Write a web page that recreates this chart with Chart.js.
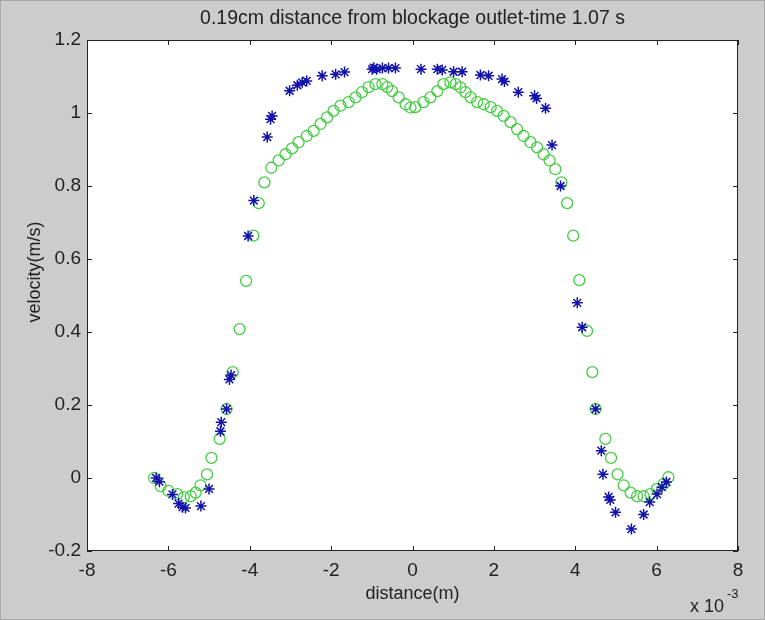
<!DOCTYPE html>
<html>
<head>
<meta charset="utf-8">
<title>velocity profile</title>
<script src="https://cdn.jsdelivr.net/npm/chart.js@4.4.1/dist/chart.umd.min.js"></script>
<style>
  html, body { margin: 0; padding: 0; background: #cccccc; }
  #wrap { width: 765px; height: 620px; position: relative; }
  canvas { display: block; }
</style>
</head>
<body>
<div id="wrap"><canvas id="profile" width="765" height="620"></canvas></div>
<script>
// distance in units of 1e-3 m, velocity in m/s

// measured profile (blue asterisks)
const measX = [-6.30, -6.22, -5.90, -5.75, -5.65, -5.58, -5.20, -5.00, -4.72, -4.70, -4.57, -4.50, -4.46,
  -4.04, -3.90, -3.57, -3.49, -3.45, -3.02, -2.83, -2.71, -2.60, -2.22, -1.89, -1.67,
  -0.99, -0.95, -0.88, -0.74, -0.59, -0.42, 0.21, 0.61, 0.73, 1.01, 1.22, 1.67, 1.87, 2.20, 2.26,
  2.60, 3.00, 3.05, 3.27, 3.43, 3.64, 4.05, 4.17, 4.50, 4.64, 4.68, 4.82, 4.86, 4.99,
  5.38, 5.68, 5.83, 6.01, 6.13, 6.24];
const measY = [0.000, -0.010, -0.045, -0.070, -0.080, -0.082, -0.077, -0.030, 0.128, 0.153, 0.189, 0.270, 0.282,
  0.663, 0.760, 0.934, 0.983, 0.992, 1.061, 1.076, 1.084, 1.088, 1.102, 1.106, 1.112,
  1.120, 1.124, 1.120, 1.123, 1.123, 1.123, 1.120, 1.120, 1.118, 1.113, 1.113, 1.104, 1.102, 1.093, 1.086,
  1.057, 1.047, 1.040, 1.013, 0.912, 0.800, 0.480, 0.413, 0.189, 0.075, 0.010, -0.052, -0.060, -0.094,
  -0.140, -0.100, -0.066, -0.044, -0.025, -0.011];

// simulated profile (green circles)
const simX = [-6.35, -6.19, -6.00, -5.78, -5.62, -5.45, -5.33, -5.21, -5.05, -4.94, -4.74, -4.57, -4.42,
  -4.25, -4.09, -3.91, -3.78, -3.64, -3.47, -3.29, -3.12, -2.96, -2.80, -2.60, -2.43, -2.26,
  -2.10, -1.94, -1.77, -1.57, -1.40, -1.24, -1.08, -0.91, -0.74, -0.62, -0.50, -0.34, -0.17,
  -0.05, 0.07, 0.27, 0.44, 0.61, 0.76, 0.93, 1.06, 1.18, 1.30, 1.43, 1.59, 1.75, 1.92, 2.08,
  2.24, 2.41, 2.57, 2.73, 2.90, 3.06, 3.22, 3.37, 3.51, 3.66, 3.80, 3.95, 4.10, 4.29, 4.42,
  4.50, 4.74, 4.88, 5.04, 5.19, 5.36, 5.52, 5.68, 5.85, 6.01, 6.17, 6.29];
const simY = [0.000, -0.022, -0.035, -0.044, -0.053, -0.050, -0.040, -0.020, 0.010, 0.055, 0.107, 0.189, 0.290,
  0.408, 0.540, 0.664, 0.753, 0.810, 0.850, 0.870, 0.887, 0.903, 0.920, 0.937, 0.951, 0.970,
  0.988, 1.006, 1.020, 1.030, 1.043, 1.057, 1.071, 1.079, 1.079, 1.071, 1.060, 1.043, 1.024,
  1.015, 1.016, 1.030, 1.043, 1.060, 1.079, 1.084, 1.079, 1.070, 1.057, 1.043, 1.030, 1.024, 1.016, 1.006,
  0.992, 0.975, 0.956, 0.937, 0.920, 0.906, 0.887, 0.870, 0.846, 0.810, 0.753, 0.664, 0.542, 0.403, 0.290,
  0.189, 0.107, 0.055, 0.010, -0.020, -0.040, -0.050, -0.050, -0.044, -0.030, -0.017, 0.002];

const xTicks = [-8, -6, -4, -2, 0, 2, 4, 6, 8];
const yTicks = [-0.2, 0, 0.2, 0.4, 0.6, 0.8, 1, 1.2];

const TITLE = "0.19cm distance from blockage outlet-time 1.07 s";
const FONT = "'Liberation Sans', Arial, Helvetica, sans-serif";
const INK = "#222222";

const pts = (xs, ys) => xs.map((x, i) => ({ x, y: ys[i] }));

// white axes box, inward ticks on all four sides, plus titles
const matlabFrame = {
  id: "matlabFrame",
  beforeDatasetsDraw(chart) {
    const { ctx, chartArea: a } = chart;
    ctx.save();
    ctx.fillStyle = "#ffffff";
    ctx.fillRect(a.left, a.top, a.right - a.left, a.bottom - a.top);
    ctx.restore();
  },
  afterDraw(chart) {
    const { ctx, chartArea: a, scales, width, height } = chart;
    const tick = 5;
    ctx.save();
    // thin figure edge
    ctx.strokeStyle = "#a8a8a8";
    ctx.strokeRect(0.5, 0.5, width - 1, height - 1);

    ctx.strokeStyle = INK;
    ctx.lineWidth = 1;
    ctx.strokeRect(a.left + 0.5, a.top + 0.5, a.right - a.left - 1, a.bottom - a.top - 1);
    ctx.beginPath();
    xTicks.forEach((v) => {
      const px = Math.round(scales.x.getPixelForValue(v)) + 0.5;
      ctx.moveTo(px, a.bottom); ctx.lineTo(px, a.bottom - tick);
      ctx.moveTo(px, a.top); ctx.lineTo(px, a.top + tick);
    });
    yTicks.forEach((v) => {
      const py = Math.round(scales.y.getPixelForValue(v)) + 0.5;
      ctx.moveTo(a.left, py); ctx.lineTo(a.left + tick, py);
      ctx.moveTo(a.right, py); ctx.lineTo(a.right - tick, py);
    });
    ctx.stroke();

    ctx.fillStyle = INK;
    ctx.textAlign = "center";
    ctx.textBaseline = "middle";
    ctx.font = "19.5px " + FONT;
    ctx.fillText(TITLE, (a.left + a.right) / 2, 19);

    ctx.font = "18px " + FONT;
    ctx.fillText("distance(m)", (a.left + a.right) / 2, 594);

    ctx.save();
    ctx.translate(35, 272);
    ctx.rotate(-Math.PI / 2);
    ctx.fillText("velocity(m/s)", 0, 0);
    ctx.restore();

    // exponent note under the x axis
    ctx.textAlign = "left";
    ctx.font = "18px " + FONT;
    ctx.fillText("x 10", 690, 607);
    ctx.font = "13px " + FONT;
    ctx.fillText("-3", 727, 594);
    ctx.restore();
  }
};

new Chart(document.getElementById("profile"), {
  type: "scatter",
  data: {
    datasets: [
      {
        label: "measured",
        data: pts(measX, measY),
        pointStyle: "star",
        pointRadius: 5.5,
        pointBorderWidth: 1.5,
        borderColor: "#1212aa",
        backgroundColor: "#1212aa"
      },
      {
        label: "simulated",
        data: pts(simX, simY),
        pointStyle: "circle",
        pointRadius: 5.5,
        pointBorderWidth: 1.3,
        borderColor: "#44cc44",
        backgroundColor: "rgba(0,0,0,0)"
      }
    ]
  },
  options: {
    responsive: false,
    animation: false,
    events: [],
    layout: { padding: { top: 40, right: 27, left: 0, bottom: 0 } },
    plugins: { legend: { display: false }, tooltip: { enabled: false } },
    scales: {
      x: {
        type: "linear",
        min: -8,
        max: 8,
        grid: { display: false, drawTicks: false },
        border: { display: false },
        afterFit: (s) => { s.height = 69; },
        afterBuildTicks: (s) => { s.ticks = xTicks.map((v) => ({ value: v })); },
        ticks: {
          padding: 8,
          color: INK,
          font: { family: FONT, size: 19 },
          callback: (v) => String(v)
        }
      },
      y: {
        type: "linear",
        min: -0.2,
        max: 1.2,
        grid: { display: false, drawTicks: false },
        border: { display: false },
        afterFit: (s) => { s.width = 87; },
        afterBuildTicks: (s) => { s.ticks = yTicks.map((v) => ({ value: v })); },
        ticks: {
          padding: 6,
          color: INK,
          font: { family: FONT, size: 19 },
          callback: (v) => String(Math.round(v * 10) / 10)
        }
      }
    }
  },
  plugins: [matlabFrame]
});
</script>
</body>
</html>
